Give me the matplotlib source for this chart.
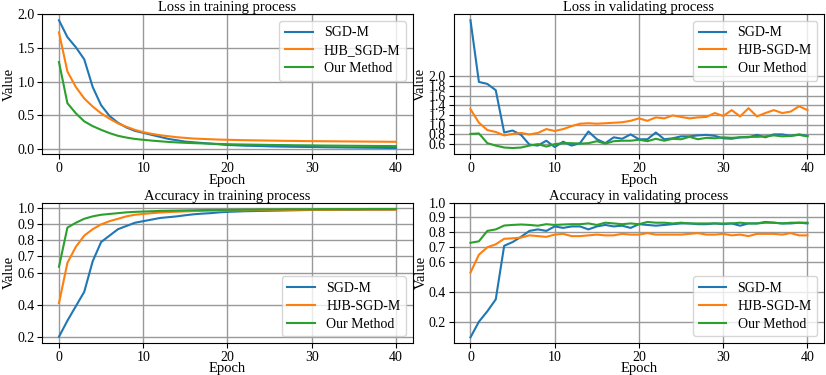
import matplotlib
matplotlib.use("Agg")
import matplotlib.pyplot as plt
import numpy as np

plt.rcParams['font.family'] = ['Liberation Serif', 'DejaVu Serif']
plt.rcParams['font.size'] = 10.5

epochs = list(range(41))

# Loss in training process
train_loss_sgd = [1.91, 1.66, 1.51, 1.33, 0.92, 0.65, 0.49, 0.39, 0.32, 0.27, 0.24,
                  0.21, 0.18, 0.15, 0.13, 0.11, 0.10, 0.09, 0.08, 0.07, 0.06,
                  0.055, 0.05, 0.047, 0.044, 0.04, 0.037, 0.035, 0.033, 0.031, 0.03,
                  0.028, 0.026, 0.025, 0.023, 0.022, 0.02, 0.019, 0.018, 0.016, 0.015]
train_loss_hjb = [1.73, 1.15, 0.92, 0.75, 0.63, 0.53, 0.45, 0.38, 0.33, 0.285, 0.25,
                  0.225, 0.205, 0.19, 0.175, 0.165, 0.155, 0.15, 0.145, 0.14, 0.137,
                  0.134, 0.131, 0.129, 0.127, 0.125, 0.123, 0.121, 0.12, 0.118, 0.117,
                  0.116, 0.115, 0.114, 0.113, 0.112, 0.111, 0.11, 0.109, 0.108, 0.107]
train_loss_our = [1.29, 0.68, 0.53, 0.41, 0.34, 0.285, 0.236, 0.196, 0.17, 0.15, 0.137,
                  0.125, 0.115, 0.105, 0.098, 0.092, 0.087, 0.083, 0.079, 0.075, 0.072,
                  0.069, 0.067, 0.065, 0.063, 0.061, 0.059, 0.058, 0.056, 0.055, 0.054,
                  0.052, 0.051, 0.05, 0.049, 0.048, 0.047, 0.046, 0.045, 0.044, 0.043]

# Loss in validating process
val_loss_sgd = [3.15, 1.88, 1.84, 1.71, 0.84, 0.88, 0.79, 0.59, 0.57, 0.67, 0.54,
                0.65, 0.57, 0.62, 0.86, 0.70, 0.62, 0.74, 0.71, 0.80, 0.70,
                0.70, 0.84, 0.70, 0.72, 0.76, 0.76, 0.78, 0.79, 0.77, 0.72,
                0.71, 0.74, 0.74, 0.79, 0.74, 0.80, 0.80, 0.77, 0.80, 0.77]
val_loss_hjb = [1.32, 1.04, 0.89, 0.85, 0.78, 0.81, 0.83, 0.80, 0.83, 0.91, 0.87,
                0.91, 0.97, 1.02, 1.03, 1.02, 1.03, 1.04, 1.05, 1.08, 1.13,
                1.08, 1.15, 1.13, 1.19, 1.16, 1.13, 1.15, 1.16, 1.24, 1.18,
                1.30, 1.17, 1.34, 1.17, 1.24, 1.30, 1.24, 1.27, 1.38, 1.30]
val_loss_our = [0.81, 0.82, 0.62, 0.57, 0.53, 0.52, 0.53, 0.57, 0.60, 0.55, 0.60,
                0.62, 0.62, 0.61, 0.62, 0.66, 0.61, 0.66, 0.67, 0.67, 0.69,
                0.66, 0.71, 0.67, 0.71, 0.70, 0.75, 0.70, 0.73, 0.72, 0.74,
                0.73, 0.74, 0.75, 0.75, 0.76, 0.78, 0.76, 0.77, 0.79, 0.76]

# Accuracy in training process
train_acc_sgd = [0.20, 0.30, 0.39, 0.48, 0.67, 0.79, 0.83, 0.87, 0.89, 0.91, 0.92,
                 0.93, 0.94, 0.945, 0.95, 0.957, 0.963, 0.967, 0.97, 0.975, 0.978,
                 0.98, 0.982, 0.983, 0.984, 0.985, 0.986, 0.987, 0.988, 0.989, 0.99,
                 0.99, 0.99, 0.991, 0.991, 0.991, 0.992, 0.992, 0.992, 0.992, 0.993]
train_acc_hjb = [0.41, 0.66, 0.76, 0.83, 0.87, 0.90, 0.92, 0.935, 0.95, 0.96, 0.965,
                 0.97, 0.974, 0.977, 0.979, 0.981, 0.983, 0.984, 0.985, 0.986, 0.987,
                 0.988, 0.988, 0.989, 0.989, 0.99, 0.99, 0.99, 0.99, 0.991, 0.991,
                 0.991, 0.991, 0.991, 0.992, 0.992, 0.992, 0.992, 0.992, 0.992, 0.992]
train_acc_our = [0.636, 0.88, 0.91, 0.935, 0.95, 0.96, 0.965, 0.97, 0.975, 0.978, 0.98,
                 0.982, 0.984, 0.985, 0.986, 0.987, 0.988, 0.989, 0.99, 0.99, 0.991,
                 0.991, 0.992, 0.992, 0.993, 0.993, 0.993, 0.994, 0.994, 0.994, 0.994,
                 0.995, 0.995, 0.995, 0.995, 0.995, 0.995, 0.996, 0.996, 0.996, 0.996]

# Accuracy in validating process
val_acc_sgd = [0.095, 0.20, 0.27, 0.35, 0.71, 0.735, 0.77, 0.81, 0.82, 0.81, 0.84,
               0.83, 0.84, 0.84, 0.82, 0.84, 0.85, 0.84, 0.845, 0.83, 0.855,
               0.85, 0.845, 0.85, 0.855, 0.86, 0.86, 0.855, 0.855, 0.86, 0.855,
               0.86, 0.845, 0.86, 0.86, 0.87, 0.865, 0.86, 0.86, 0.865, 0.86]
val_acc_hjb = [0.53, 0.65, 0.70, 0.72, 0.757, 0.76, 0.765, 0.78, 0.775, 0.77, 0.785,
               0.79, 0.775, 0.775, 0.78, 0.785, 0.78, 0.78, 0.79, 0.785, 0.785,
               0.795, 0.785, 0.785, 0.785, 0.785, 0.79, 0.795, 0.785, 0.785, 0.79,
               0.78, 0.785, 0.775, 0.79, 0.79, 0.79, 0.785, 0.795, 0.78, 0.78]
val_acc_our = [0.73, 0.74, 0.81, 0.82, 0.846, 0.85, 0.853, 0.85, 0.845, 0.855, 0.85,
               0.853, 0.855, 0.855, 0.86, 0.85, 0.865, 0.86, 0.855, 0.86, 0.855,
               0.87, 0.865, 0.865, 0.86, 0.865, 0.86, 0.86, 0.86, 0.86, 0.86,
               0.86, 0.865, 0.86, 0.86, 0.865, 0.865, 0.86, 0.865, 0.865, 0.865]

acc_ticks = [0.2, 0.4, 0.6, 0.7, 0.8, 0.9, 1.0]
val_loss_ticks = [0.6, 0.8, 1.0, 1.2, 1.4, 1.6, 1.8, 2.0]

fig, axes = plt.subplots(2, 2, figsize=(8.26, 3.75), dpi=100)
plt.subplots_adjust(left=0.051, right=0.998, top=0.963, bottom=0.085,
                    wspace=0.11, hspace=0.343)

def panel(ax, title, sgd, hjb, our, hjb_label, loc):
    ax.plot(epochs, sgd, color='tab:blue', lw=1.5, label='SGD-M')
    ax.plot(epochs, hjb, color='tab:orange', lw=1.5, label=hjb_label)
    ax.plot(epochs, our, color='tab:green', lw=1.5, label='Our Method')
    ax.set_title(title, fontsize=10.5, pad=2)
    ax.set_xlabel('Epoch', labelpad=-1)
    ax.set_ylabel('Value', labelpad=1)
    ax.set_xticks([0, 10, 20, 30, 40])
    ax.grid(True, color='#999999', lw=1)
    ax.tick_params(pad=2, labelsize=10)
    ax.legend(loc=loc, fontsize=10, labelspacing=0.35)

panel(axes[0, 0], 'Loss in training process', train_loss_sgd, train_loss_hjb,
      train_loss_our, 'HJB_SGD-M', 'upper right')
axes[0, 0].set_yticks([0.0, 0.5, 1.0, 1.5, 2.0])

panel(axes[0, 1], 'Loss in validating process', val_loss_sgd, val_loss_hjb,
      val_loss_our, 'HJB-SGD-M', 'upper right')
axes[0, 1].set_yticks(val_loss_ticks)

panel(axes[1, 0], 'Accuracy in training process', train_acc_sgd, train_acc_hjb,
      train_acc_our, 'HJB-SGD-M', 'lower right')
axes[1, 0].set_yticks(acc_ticks)

panel(axes[1, 1], 'Accuracy in validating process', val_acc_sgd, val_acc_hjb,
      val_acc_our, 'HJB-SGD-M', 'lower right')
axes[1, 1].set_yticks(acc_ticks)
axes[1, 1].set_ylim(top=1.0)

plt.savefig('out.png')
